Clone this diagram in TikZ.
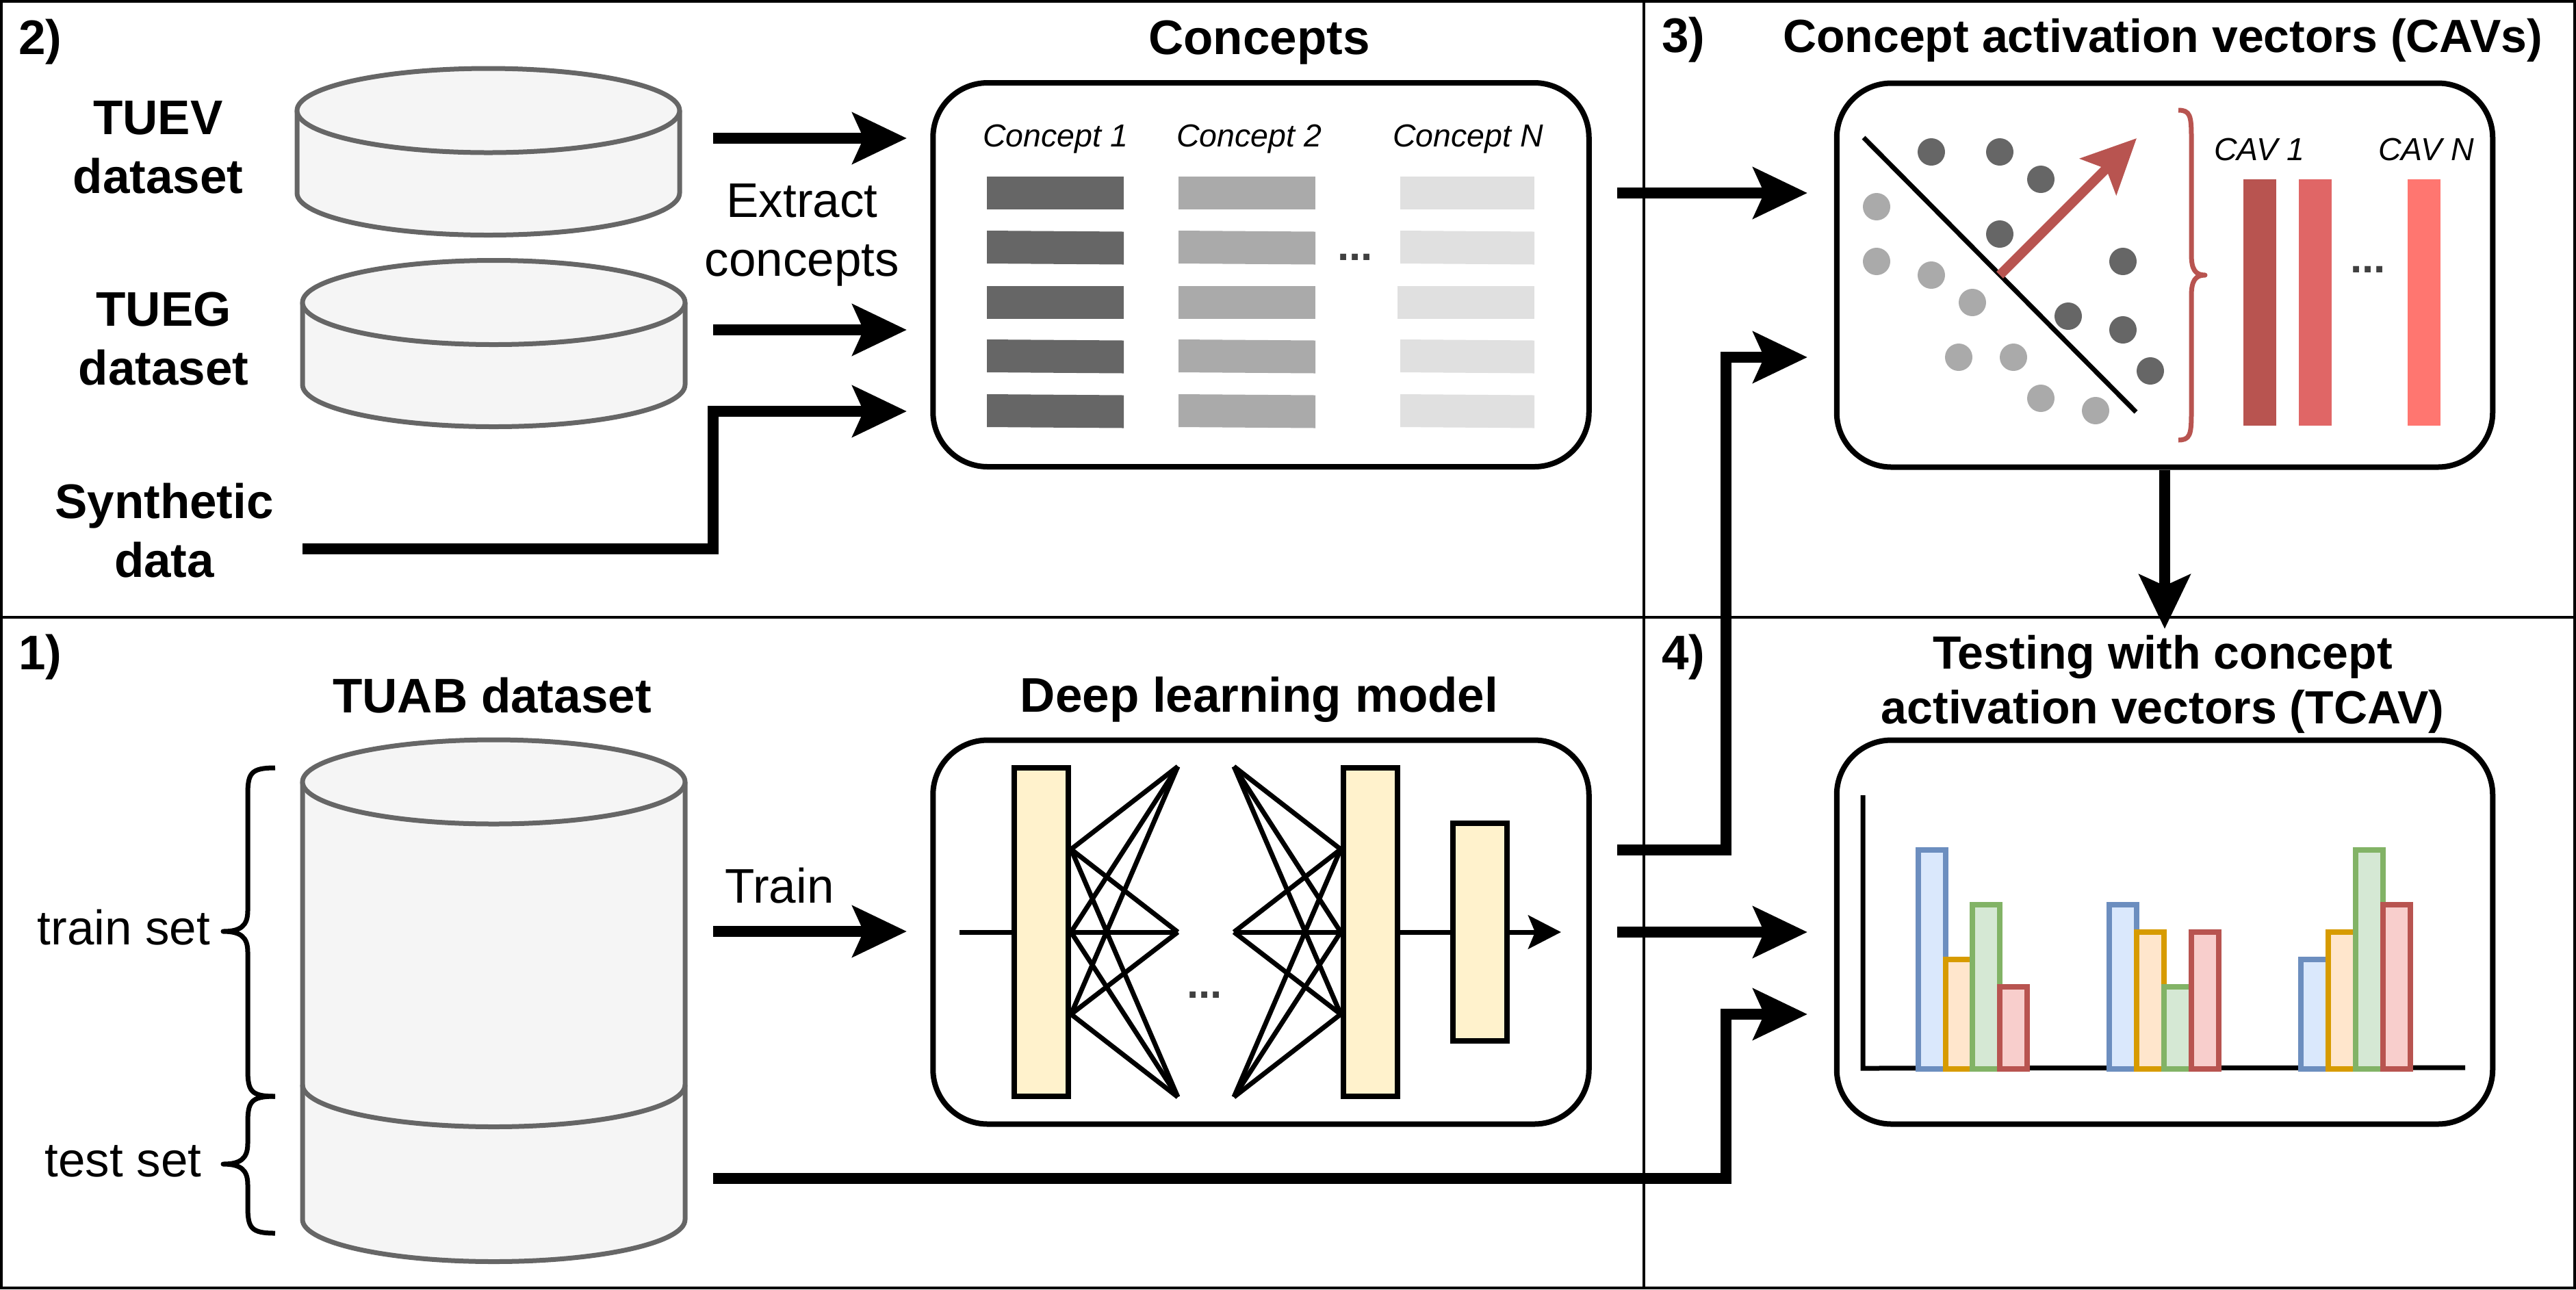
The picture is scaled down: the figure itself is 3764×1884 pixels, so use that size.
\documentclass[tikz,border=0pt]{standalone}
\usepackage{fontspec}
\setmainfont{Liberation Sans}
\usetikzlibrary{arrows.meta}

\definecolor{drumline}{HTML}{666666}
\definecolor{drumfill}{HTML}{F5F5F5}
\definecolor{dotlight}{HTML}{AAAAAA}
\definecolor{redline}{HTML}{B85450}
\definecolor{redmid}{HTML}{E06666}
\definecolor{redlight}{HTML}{FF7670}
\definecolor{layerfill}{HTML}{FFF2CC}
\definecolor{stripc}{HTML}{E0E0E0}

\newcommand{\dbdrum}[4]{%left, right, top centre, bottom centre
	\draw[drum] (#1,#3) -- (#1,#4) arc[x radius=(#2-#1)/2,y radius=61.5,start angle=180,end angle=0] -- (#2,#3);
	\draw[drum] ({(#1+#2)/2},#3) ellipse[x radius=(#2-#1)/2,y radius=61.5];
}
\newcommand{\curlybr}[7]{%colour, tip x, spine x, point x, top, middle, bottom
	\draw[#1,line width=1.4pt,line join=round] (#2,#5) .. controls ({#3+0.1*(#2-#3)},#5) and (#3,#5+8) .. (#3,#5+40)
		-- (#3,#6-30) .. controls (#3,#6-8) and ({#3+0.3*(#4-#3)},#6) .. (#4,#6)
		.. controls ({#3+0.3*(#4-#3)},#6) and (#3,#6+8) .. (#3,#6+30)
		-- (#3,#7-40) .. controls (#3,#7-8) and ({#3+0.1*(#2-#3)},#7) .. (#2,#7);
}

\tikzset{
	bigtext/.style={font=\fontsize{14.2}{17.2}\selectfont,inner sep=0pt,anchor=base,align=center},
	bigbold/.style={font=\fontsize{14.2}{17.2}\selectfont\bfseries,inner sep=0pt,anchor=base,align=center},
	sidebold/.style={bigbold,font=\fontsize{13.6}{16}\selectfont\bfseries},
	smalltext/.style={font=\fontsize{9.3}{11}\selectfont\itshape,inner sep=0pt,anchor=base},
	dotdot/.style={font=\fontsize{12.4}{14}\selectfont\bfseries,text=black!75,inner sep=0pt,anchor=base},
	drum/.style={draw=drumline,fill=drumfill,line width=1.4pt},
	panelbox/.style={draw,fill=white,line width=1.6pt,rounded corners=16pt,inner sep=0pt,minimum width=191.7pt,minimum height=112.2pt},
	layerbox/.style={draw,fill=layerfill,line width=1.6pt,inner sep=0pt,minimum width=15.8pt},
	heavy/.style={-{Stealth[length=15.8pt,width=14.8pt,inset=3.2pt]},line width=3.2pt},
	netline/.style={line width=1.4pt},
	barblue/.style={draw={rgb,255:red,108;green,142;blue,191},fill={rgb,255:red,218;green,232;blue,252},line width=1.7pt},
	barorange/.style={draw={rgb,255:red,215;green,155;blue,0},fill={rgb,255:red,255;green,230;blue,204},line width=1.7pt},
	bargreen/.style={draw={rgb,255:red,130;green,179;blue,102},fill={rgb,255:red,213;green,232;blue,212},line width=1.7pt},
	barred/.style={draw=redline,fill={rgb,255:red,248;green,206;blue,204},line width=1.7pt},
}

\begin{document}
\begin{tikzpicture}[x=0.2pt,y=-0.2pt]
	\useasboundingbox (0,0) rectangle (3764,1884);

	%frame
	\draw[line width=0.8pt] (2,2) rectangle (3762,1882);
	\draw[line width=0.8pt] (2,902)--(3762,902);
	\draw[line width=0.8pt] (2402,2)--(2402,1882);

	%step numbers
	\node[bigbold] (stepb) at (59,79) {2)};
	\node[bigbold] (stepc) at (2460,76) {3)};
	\node[bigbold] (stepa) at (59,978) {1)};
	\node[bigbold] (stepd) at (2460,978) {4)};

	%titles
	\node[bigbold] (titleconcepts) at (1840,79) {Concepts};
	\node[sidebold] (titlecavs) at (3160,76) {Concept activation vectors (CAVs)};
	\node[bigbold] (titletuab) at (719,1041) {TUAB dataset};
	\node[bigbold] (titlemodel) at (1840,1040) {Deep learning model};
	\node[sidebold] (titletcav) at (3160,1057) {Testing with concept\\activation vectors (TCAV)};

	%datasets
	\dbdrum{434}{993}{161.5}{282}
	\dbdrum{442}{1001}{442}{562}
	\dbdrum{442}{1001}{1142.5}{1782}
	\draw[drum,fill=none] (442,1585) arc[x radius=279.5,y radius=61.5,start angle=180,end angle=0];

	\node[bigbold] (tuev) at (231,282) {TUEV\\dataset};
	\node[bigbold] (tueg) at (239,562) {TUEG\\dataset};
	\node[bigbold] (synth) at (240,843) {Synthetic\\data};
	\node[bigtext] (extract) at (1172,403) {Extract\\concepts};
	\node[bigtext] (train) at (1139,1319) {Train};
	\node[bigtext] (trainset) at (181,1380) {train set};
	\node[bigtext] (testset) at (180,1719) {test set};

	\curlybr{black}{402}{362}{326}{1122}{1361}{1602}
	\curlybr{black}{402}{362}{326}{1602}{1701}{1802}

	%panels
	\node[panelbox] (conceptbox) at (1842.5,401.5) {};
	\node[panelbox] (cavbox) at (3163,402) {};
	\node[panelbox] (modelbox) at (1842.5,1362) {};
	\node[panelbox] (tcavbox) at (3163,1362) {};

	%concept strips
	\foreach \xa/\xb/\shade in {1442/1642/666666,1722/1922/AAAAAA,2046/2242/E0E0E0}
		\foreach \yt/\sk in {258/0,337/1.5,418/0,496/1.5,576/1.5}{
			\definecolor{strip}{HTML}{\shade}
			\fill[strip] (\xa,\yt)--(\xb,\yt+\sk)--(\xb,\yt+48+\sk)--(\xa,\yt+48)--cycle;
		}
	\fill[stripc] (2042,418) rectangle (2050,466);	%wider one
	\node[smalltext] (conceptone) at (1542,214) {Concept 1};
	\node[smalltext] (concepttwo) at (1825,214) {Concept 2};
	\node[smalltext] (conceptn) at (2145,214) {Concept N};
	\node[dotdot] (conceptdots) at (1980,380) {...};

	%scatter
	\draw[line width=1.4pt] (2723,201)--(3121,602);
	\foreach \x/\y in {2822/222,2922/222,2982/262,2922/342,3102/382,3022/462,3102/482,3142/542}
		\fill[drumline] (\x,\y) circle[radius=20];
	\foreach \x/\y in {2742/302,2742/382,2822/402,2882/442,2862/522,2942/522,2982/582,3062/600}
		\fill[dotlight] (\x,\y) circle[radius=20];
	\coordinate (cavfoot) at (2922,402);
	\coordinate (cavtip) at (3122,202);
	\draw[heavy,redline,line width=2.8pt] (cavfoot)--(cavtip);
	\curlybr{redline}{3183}{3202}{3222}{161}{402}{643}

	%cav bars
	\fill[redline] (3278,262) rectangle (3326,622);
	\fill[redmid] (3359,262) rectangle (3407,622);
	\fill[redlight] (3518,262) rectangle (3566,622);
	\node[smalltext] (cavone) at (3301,234) {CAV 1};
	\node[smalltext] (cavn) at (3545,234) {CAV N};
	\node[dotdot] (cavdots) at (3460,398) {...};

	%network
	\coordinate (netin) at (1402,1362);
	\coordinate (netout) at (2281,1362);
	\foreach \a in {1241,1362,1482}
		\foreach \b in {1120,1362,1603}{
			\draw[netline] (1565,\a)--(1721,\b);
			\draw[netline] (1959,\a)--(1803,\b);
		}
	\node[layerbox,minimum height=96pt] (layera) at (1521.5,1362) {};
	\node[layerbox,minimum height=96pt] (layerb) at (2002.5,1362) {};
	\node[layerbox,minimum height=63.6pt] (layerc) at (2162.5,1362) {};
	\draw[netline] (netin)--(layera);
	\draw[netline] (layerb)--(layerc);
	\draw[netline,-{Stealth[length=9.6pt,width=9.8pt,inset=2pt]}] (layerc)--(netout);
	\node[dotdot] (netdots) at (1760,1458) {...};

	%bar chart
	\draw[line width=1.4pt] (2722,1162)--(2722,1561)--(3602,1560);
	\foreach \x/\t/\s in {2803/1242/barblue,2843/1402/barorange,2882/1322/bargreen,2922/1442/barred,
		3082/1322/barblue,3122/1362/barorange,3162/1442/bargreen,3202/1362/barred,
		3362/1402/barblue,3402/1362/barorange,3442/1242/bargreen,3482/1322/barred}
		\draw[\s] (\x,\t) rectangle (\x+40,1562);

	%arrows
	\coordinate (tuevout) at (1042,202);
	\coordinate (tuevin) at (1325,202);
	\coordinate (tuegout) at (1042,482);
	\coordinate (tuegin) at (1325,482);
	\coordinate (synthout) at (442,802);
	\coordinate (synthin) at (1325,601);
	\coordinate (conceptout) at (2363,282);
	\coordinate (conceptin) at (2641,282);
	\coordinate (modelup) at (2363,1242);
	\coordinate (modelupin) at (2641,522);
	\coordinate (modelout) at (2363,1362);
	\coordinate (modelin) at (2641,1362);
	\coordinate (trainout) at (1042,1361);
	\coordinate (trainin) at (1325,1361);
	\coordinate (testout) at (1042,1722);
	\coordinate (testin) at (2641,1482);
	\coordinate (tcavin) at (3163,919);
	\draw[heavy] (tuevout)--(tuevin);
	\draw[heavy] (tuegout)--(tuegin);
	\draw[heavy] (synthout)-|(1042,601)--(synthin);
	\draw[heavy] (conceptout)--(conceptin);
	\draw[heavy] (modelup)-|(2522,522)--(modelupin);
	\draw[heavy] (modelout)--(modelin);
	\draw[heavy] (trainout)--(trainin);
	\draw[heavy] (testout)-|(2522,1482)--(testin);
	\draw[heavy] (cavbox.south)--(tcavin);
\end{tikzpicture}
\end{document}
